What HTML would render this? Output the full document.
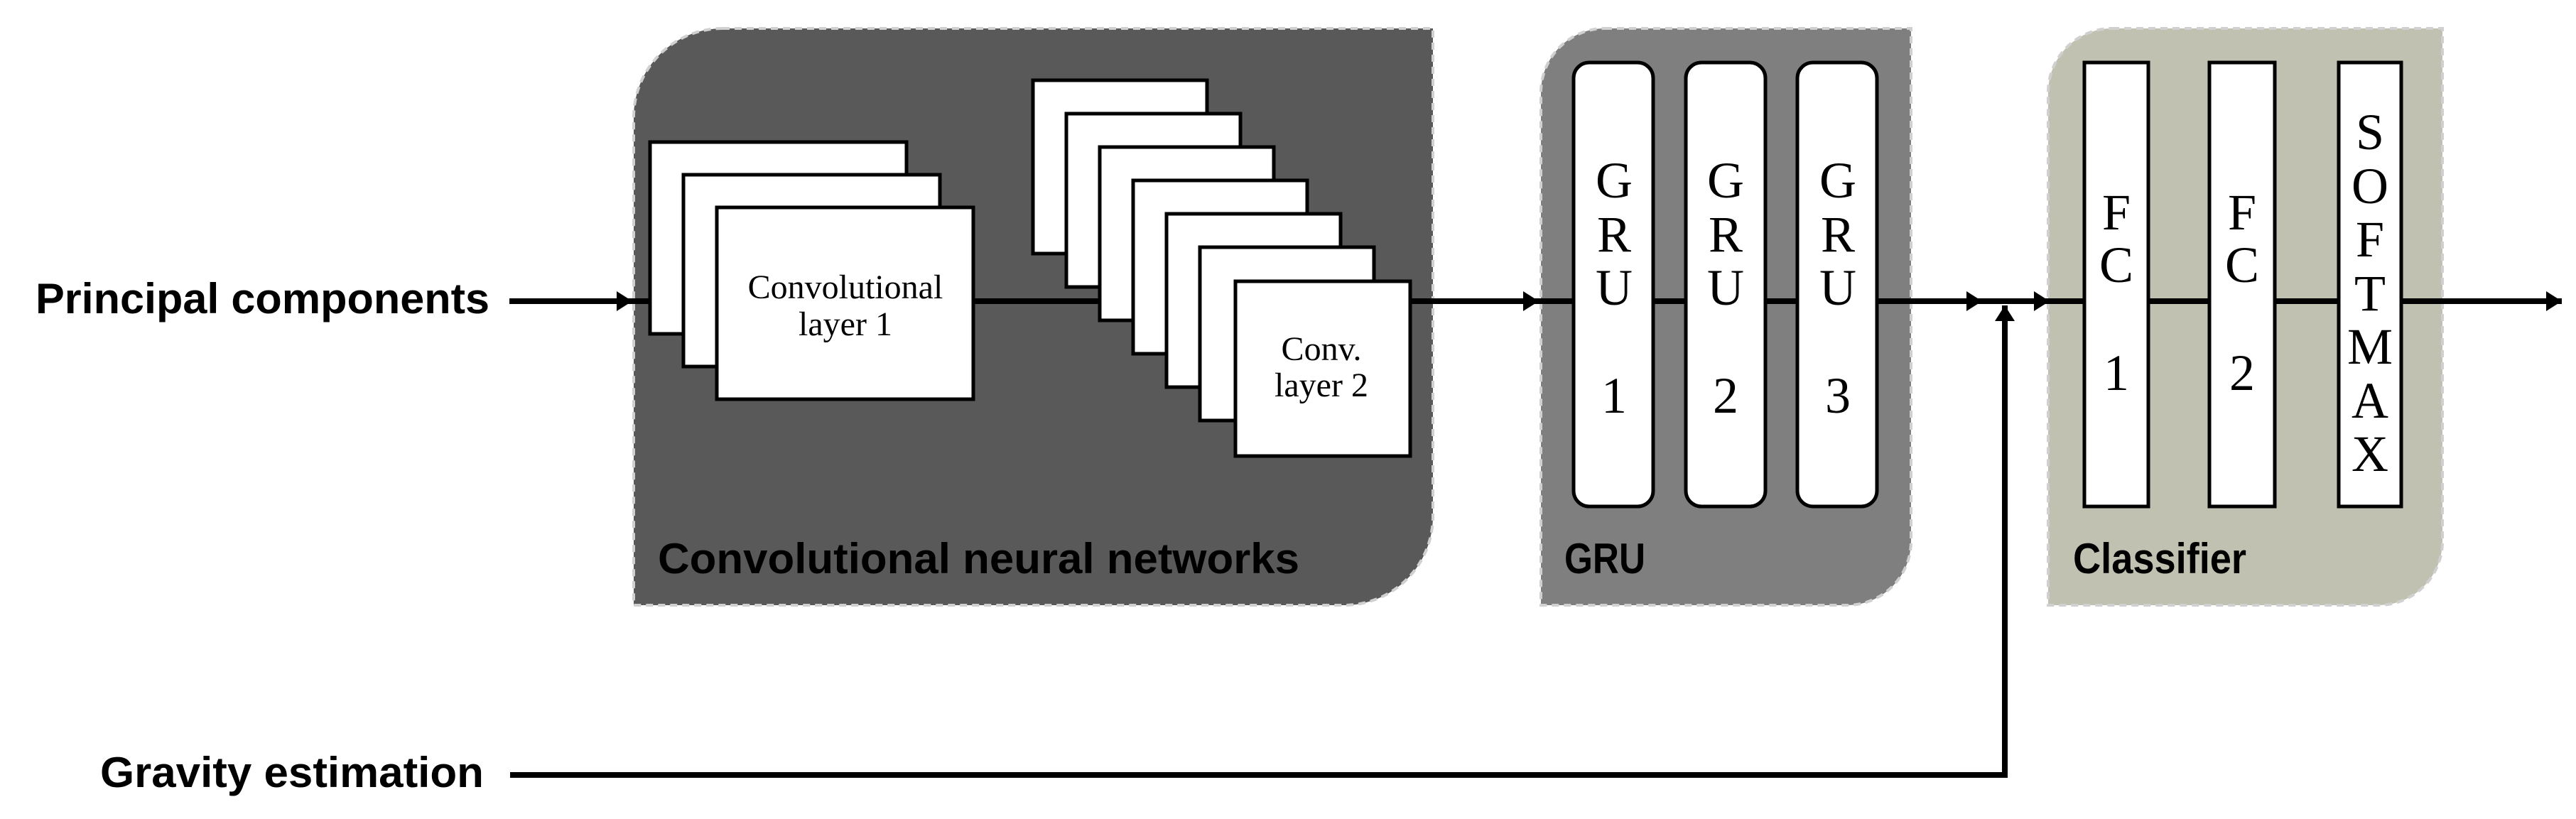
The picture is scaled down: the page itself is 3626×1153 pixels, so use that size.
<!DOCTYPE html>
<html><head><meta charset="utf-8"><style>html,body{margin:0;padding:0;background:#fff}svg{display:block}</style></head>
<body>
<svg xmlns="http://www.w3.org/2000/svg" width="3626" height="1153" viewBox="0 0 3626 1153">
<defs>
<marker id="ah" viewBox="0 0 22 28" refX="22" refY="14" markerWidth="22" markerHeight="28" markerUnits="userSpaceOnUse" orient="auto"><path d="M0,0 L22,14 L0,28 Z" fill="#000"/></marker>
</defs>
<g stroke="#d0d0d0" stroke-width="4" stroke-dasharray="10 7">
<path d="M1017,40 H2017 V727 A125,125 0 0 1 1892,852 H892 V165 A125,125 0 0 1 1017,40 Z" fill="#595959"/>
<path d="M2259,40 H2690 V762 A90,90 0 0 1 2600,852 H2169 V130 A90,90 0 0 1 2259,40 Z" fill="#7f7f7f"/>
<path d="M2973,40 H3438 V762 A90,90 0 0 1 3348,852 H2883 V130 A90,90 0 0 1 2973,40 Z" fill="#c0c1b0"/>
</g>
<g stroke="#000" stroke-width="8" fill="none">
<line x1="717" y1="424" x2="890" y2="424" marker-end="url(#ah)"/>
<line x1="890" y1="424" x2="2166" y2="424" marker-end="url(#ah)"/>
<line x1="2166" y1="424" x2="2790" y2="424" marker-end="url(#ah)"/>
<line x1="2790" y1="424" x2="2885" y2="424" marker-end="url(#ah)"/>
<line x1="2885" y1="424" x2="3606" y2="424" marker-end="url(#ah)"/>
<polyline points="718,1091 2822,1091 2822,430" marker-end="url(#ah)"/>
</g>
<g fill="#fff" stroke="#000" stroke-width="5">
<rect x="915" y="200" width="361" height="270"/>
<rect x="962" y="246" width="361" height="270"/>
<rect x="1009" y="292" width="361" height="270"/>
<rect x="1454" y="113" width="245" height="244"/>
<rect x="1501" y="160" width="245" height="244"/>
<rect x="1548" y="207" width="245" height="244"/>
<rect x="1595" y="254" width="245" height="244"/>
<rect x="1642" y="301" width="245" height="244"/>
<rect x="1689" y="348" width="245" height="244"/>
<rect x="1739" y="396" width="246" height="246"/>
<rect x="2215" y="88" width="112" height="625" rx="22"/>
<rect x="2373" y="88" width="112" height="625" rx="22"/>
<rect x="2530" y="88" width="112" height="625" rx="22"/>
<rect x="2934" y="88" width="90" height="625"/>
<rect x="3110" y="88" width="92" height="625"/>
<rect x="3292" y="88" width="88" height="625"/>
</g>
<g font-family="Liberation Sans, sans-serif" font-weight="bold" font-size="60" fill="#000">
<text x="50" y="441" textLength="639" lengthAdjust="spacingAndGlyphs">Principal components</text>
<text x="141" y="1108" textLength="540" lengthAdjust="spacingAndGlyphs">Gravity estimation</text>
<text x="926" y="807" textLength="903" lengthAdjust="spacingAndGlyphs">Convolutional neural networks</text>
<text x="2202" y="807" textLength="114" lengthAdjust="spacingAndGlyphs">GRU</text>
<text x="2918" y="807" textLength="244" lengthAdjust="spacingAndGlyphs">Classifier</text>
</g>
<g font-family="Liberation Serif, serif" fill="#000" text-anchor="middle">
<g font-size="48">
<text x="1190" y="420">Convolutional</text>
<text x="1190" y="472">layer 1</text>
<text x="1860" y="507">Conv.</text>
<text x="1860" y="558">layer 2</text>
</g>
<g font-size="72">
<text x="2272" y="278">G</text><text x="2272" y="354">R</text><text x="2272" y="429">U</text><text x="2272" y="581">1</text>
<text x="2429" y="278">G</text><text x="2429" y="354">R</text><text x="2429" y="429">U</text><text x="2429" y="581">2</text>
<text x="2587" y="278">G</text><text x="2587" y="354">R</text><text x="2587" y="429">U</text><text x="2587" y="581">3</text>
<text x="2979" y="323">F</text><text x="2979" y="397">C</text><text x="2979" y="549">1</text>
<text x="3156" y="323">F</text><text x="3156" y="397">C</text><text x="3156" y="549">2</text>
<text x="3336" y="210">S</text><text x="3336" y="286">O</text><text x="3336" y="361">F</text><text x="3336" y="437">T</text><text x="3336" y="512">M</text><text x="3336" y="588">A</text><text x="3336" y="663">X</text>
</g>
</g>
</svg>
</body></html>
